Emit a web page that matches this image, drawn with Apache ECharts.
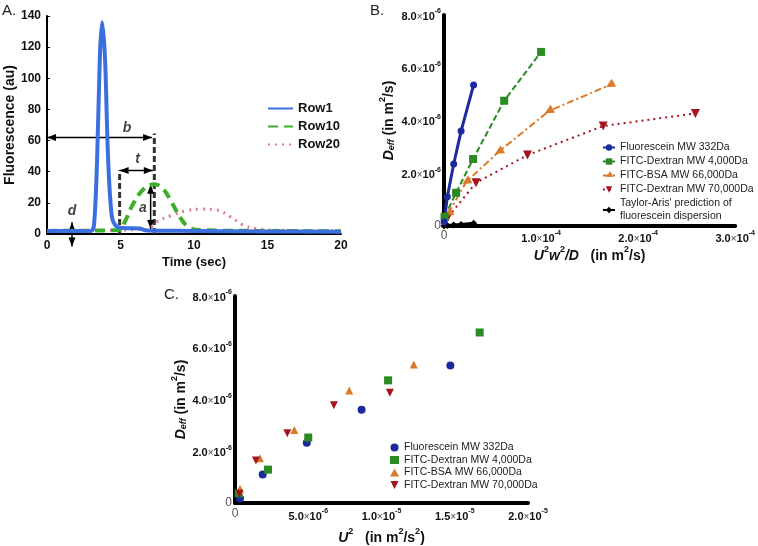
<!DOCTYPE html>
<html><head><meta charset="utf-8">
<script src="https://cdn.jsdelivr.net/npm/echarts@6/dist/echarts.min.js"></script>
<style>html,body{margin:0;padding:0;background:#fff}#c{width:758px;height:546px}</style>
</head><body><div id="c"></div>
<script>
// ---------- Panel A data ----------
const row1 = [[0,2],[3.0,2],[3.2,6],[3.4,45],[3.6,115],[3.75,136],[3.95,112],[4.15,50],[4.4,12],[4.7,5],[5.2,3.8],[6.3,3.5],[6.8,2.2],[10,2],[15,1.6],[20,1.5]];
const row10 = [[0,2],[4.9,2.5],[5.3,8],[5.9,20],[6.6,29],[7.3,32],[7.9,29],[8.5,20],[9.1,10],[9.7,4],[10.5,2.5],[14,2],[20,1.8]];
const row20 = [[0,2],[6.8,3],[7.5,8],[8.5,12],[9.5,15],[10.5,16],[11.5,15.5],[12.5,11],[13.3,6],[14.2,3.5],[15.5,2.5],[20,2]];
const seriesNamesA = ['Row1','Row10','Row20'];
// annotation arrows [x1,y1,x2,y2] (data coords, double-headed) and labels
const annotArrows = [[0,62,7.15,62],[4.94,40.7,7.2,40.7],[7.05,31.6,7.05,3.2],[1.7,7.5,1.7,-8]];
const annotDashed = [[4.94,0,4.94,41],[7.3,0,7.3,64.6]];
const annotLabels = [[5.44,68,'b'],[6.17,48,'t'],[6.53,16.7,'a'],[1.7,15,'d']];

// ---------- Panel B data ----------
const namesB = ['Fluorescein MW 332Da','FITC-Dextran MW 4,000Da','FITC-BSA MW 66,000Da','FITC-Dextran MW 70,000Da',"Taylor-Aris' prediction of\nfluorescein dispersion"];
const bFluor = [[0.2e-6,0.15e-6],[3.4e-6,1.11e-6],[1.0e-5,2.35e-6],[1.76e-5,3.6e-6],[3.05e-5,5.35e-6]];
const bDex4 = [[0.6e-6,0.35e-6],[1.25e-5,1.26e-6],[3.0e-5,2.54e-6],[6.2e-5,4.75e-6],[1.0e-4,6.6e-6]];
const bBSA = [[4.4e-6,0.48e-6],[2.3e-5,1.68e-6],[5.66e-5,2.82e-6],[1.08e-4,4.36e-6],[1.71e-4,5.35e-6]];
const bDex70 = [[4.4e-6,0.35e-6],[3.3e-5,1.64e-6],[8.6e-5,2.69e-6],[1.64e-4,3.79e-6],[2.59e-4,4.27e-6]];
const bTaylor = [[0,0],[3.4e-6,0.02e-6],[1.0e-5,0.04e-6],[1.76e-5,0.06e-6],[3.05e-5,0.1e-6]];

// ---------- Panel C data ----------
const namesC = ['Fluorescein MW 332Da ','FITC-Dextran MW 4,000Da ','FITC-BSA MW 66,000Da ','FITC-Dextran MW 70,000Da '];
const cFluor = [[0.34e-6,0.17e-6],[1.89e-6,1.1e-6],[4.9e-6,2.33e-6],[8.64e-6,3.6e-6],[1.47e-5,5.31e-6]];
const cDex4 = [[0.25e-6,0.38e-6],[2.25e-6,1.29e-6],[5.0e-6,2.53e-6],[1.045e-5,4.74e-6],[1.67e-5,6.59e-6]];
const cBSA = [[0.34e-6,0.55e-6],[1.7e-6,1.73e-6],[4.05e-6,2.82e-6],[7.8e-6,4.35e-6],[1.22e-5,5.35e-6]];
const cDex70 = [[0.3e-6,0.36e-6],[1.43e-6,1.64e-6],[3.57e-6,2.7e-6],[6.75e-6,3.78e-6],[1.057e-5,4.26e-6]];

const FONT = 'Liberation Sans, Arial, sans-serif';
const colors = {fluor:'#1b2a9c', dex4:'#2a8a24', bsa:'#d97a2a', dex70:'#a3141f', taylor:'#000'};

function sciFmt(v){
  if (v === 0) return '0';
  const e = Math.floor(Math.log10(Math.abs(v)) + 1e-9);
  const m = (v / Math.pow(10, e)).toFixed(1);
  return '{m|' + m + '}{x|×}{m|10}{s|' + e + '}';
}
const sciRich = {
  m:{fontFamily:FONT,fontWeight:'bold',fontSize:11,color:'#111',verticalAlign:'bottom',lineHeight:14},
  x:{fontFamily:FONT,fontSize:10,color:'#444',verticalAlign:'bottom',lineHeight:14},
  s:{fontFamily:FONT,fontWeight:'bold',fontSize:7,color:'#111',verticalAlign:'top',lineHeight:14}
};
const deffName = '{i|D}{sub|eff}{n| (in m}{sup|2}{n|/s)}';
const deffRich = {
  i:{fontFamily:FONT,fontWeight:'bold',fontStyle:'italic',fontSize:14,color:'#111',verticalAlign:'bottom',lineHeight:18},
  sub:{fontFamily:FONT,fontWeight:'bold',fontStyle:'italic',fontSize:9,color:'#111',verticalAlign:'bottom',lineHeight:14},
  n:{fontFamily:FONT,fontWeight:'bold',fontSize:14,color:'#111',verticalAlign:'bottom',lineHeight:18},
  sup:{fontFamily:FONT,fontWeight:'bold',fontSize:9,color:'#111',verticalAlign:'top',lineHeight:18}
};
const thickAxis = {lineStyle:{color:'#000',width:4}};
const downTri = 'path://M0,0L10,0L5,10Z';

function arrowItem(params, api){
  const p1 = api.coord([api.value(0), api.value(1)]);
  const p2 = api.coord([api.value(2), api.value(3)]);
  const ang = Math.atan2(p2[1]-p1[1], p2[0]-p1[0]);
  const L = 9, W = 3.5;
  function head(p, a){
    const c = Math.cos(a), s = Math.sin(a);
    return [[p[0],p[1]],[p[0]-L*c+W*s,p[1]-L*s-W*c],[p[0]-L*c-W*s,p[1]-L*s+W*c]];
  }
  return {type:'group',children:[
    {type:'line',shape:{x1:p1[0],y1:p1[1],x2:p2[0],y2:p2[1]},style:{stroke:'#000',lineWidth:1.5}},
    {type:'polygon',shape:{points:head(p2, ang)},style:{fill:'#000'}},
    {type:'polygon',shape:{points:head(p1, ang+Math.PI)},style:{fill:'#000'}}
  ]};
}
function dashedItem(params, api){
  const p1 = api.coord([api.value(0), api.value(1)]);
  const p2 = api.coord([api.value(2), api.value(3)]);
  return {type:'line',shape:{x1:p1[0],y1:p1[1],x2:p2[0],y2:p2[1]},style:{stroke:'#333',lineWidth:3,lineDash:[6,3]}};
}

const chart = echarts.init(document.getElementById('c'), null, {renderer:'canvas'});
const option = {
  animation:false,
  backgroundColor:'#fff',
  textStyle:{fontFamily:FONT},
  graphic:[
    {type:'text',left:2,top:3,style:{text:'A.',font:'15px '+FONT,fill:'#222'}},
    {type:'text',left:370,top:3,style:{text:'B.',font:'15px '+FONT,fill:'#222'}},
    {type:'text',left:164,top:287,style:{text:'C.',font:'15px '+FONT,fill:'#222'}}
  ],
  grid:[
    {left:47,right:417,top:16,bottom:312},
    {left:444,right:20,top:15,bottom:320},
    {left:235,right:230,top:296,bottom:42}
  ],
  xAxis:[
    {gridIndex:0,type:'value',min:0,max:20,interval:5,splitLine:{show:false},
     axisLine:{lineStyle:{color:'#000',width:2}},axisTick:{show:false},
     axisLabel:{fontFamily:FONT,fontWeight:'bold',fontSize:12,color:'#111',margin:6},
     name:'Time (sec)',nameLocation:'middle',nameGap:22,
     nameTextStyle:{fontFamily:FONT,fontWeight:'bold',fontSize:13,color:'#111'}},
    {gridIndex:1,type:'value',min:0,max:3e-4,interval:1e-4,splitLine:{show:false},
     axisLine:thickAxis,axisTick:{show:false},
     axisLabel:{formatter:sciFmt,rich:sciRich,margin:4},
     name:'{i|U}{sup|2}{i|w}{sup|2}{i|/D}{n|   (in m}{sup|2}{n|/s)}',nameLocation:'middle',nameGap:17,
     nameTextStyle:{rich:deffRich}},
    {gridIndex:2,type:'value',min:0,max:2e-5,interval:5e-6,splitLine:{show:false},
     axisLine:thickAxis,axisTick:{show:false},
     axisLabel:{formatter:sciFmt,rich:sciRich,margin:5},
     name:'{i|U}{sup|2}{n|   (in m}{sup|2}{n|/s}{sup|2}{n|)}',nameLocation:'middle',nameGap:24,
     nameTextStyle:{rich:deffRich}}
  ],
  yAxis:[
    {gridIndex:0,type:'value',min:0,max:140,interval:20,splitLine:{show:false},
     axisLine:{show:true,lineStyle:{color:'#000',width:2}},axisTick:{show:true,inside:true,length:3,lineStyle:{color:'#000'}},
     axisLabel:{fontFamily:FONT,fontWeight:'bold',fontSize:12,color:'#111',margin:6},
     name:'Fluorescence (au)',nameLocation:'middle',nameRotate:90,nameGap:30,
     nameTextStyle:{fontFamily:FONT,fontWeight:'bold',fontSize:14,color:'#111'}},
    {gridIndex:1,type:'value',min:0,max:8e-6,interval:2e-6,splitLine:{show:false},
     axisLine:{show:true,lineStyle:{color:'#000',width:4}},axisTick:{show:false},
     axisLabel:{formatter:sciFmt,rich:sciRich,margin:3},
     name:deffName,nameLocation:'middle',nameRotate:90,nameGap:48,
     nameTextStyle:{rich:deffRich}},
    {gridIndex:2,type:'value',min:0,max:8e-6,interval:2e-6,splitLine:{show:false},
     axisLine:{show:true,lineStyle:{color:'#000',width:4}},axisTick:{show:false},
     axisLabel:{formatter:sciFmt,rich:sciRich,margin:3},
     name:deffName,nameLocation:'middle',nameRotate:90,nameGap:44,
     nameTextStyle:{rich:deffRich}}
  ],
  legend:[
    {data:seriesNamesA,left:262,top:97,orient:'vertical',itemWidth:25,itemHeight:10,itemGap:5,
     itemStyle:{opacity:0},
     textStyle:{fontFamily:FONT,fontWeight:'bold',fontSize:13,color:'#111'}},
    {data:namesB,left:597,top:136,orient:'vertical',itemWidth:12,itemHeight:8,itemGap:1,
     textStyle:{fontFamily:FONT,fontSize:10.5,color:'#222',lineHeight:13}},
    {data:[namesC[0],namesC[1],namesC[2],{name:namesC[3],icon:downTri}],left:385,top:437,orient:'vertical',itemWidth:9,itemHeight:8,itemGap:1.5,
     textStyle:{fontFamily:FONT,fontSize:10.5,color:'#222'}}
  ],
  series:[
    // Panel A
    {name:'Row20',type:'line',xAxisIndex:0,yAxisIndex:0,data:row20,symbol:'none',smooth:0.4,
     lineStyle:{color:'#e27c88',width:3,type:[2,5]},itemStyle:{color:'#e27c88'}},
    {name:'Row10',type:'line',xAxisIndex:0,yAxisIndex:0,data:row10,symbol:'none',smooth:0.4,
     lineStyle:{color:'#3cae2a',width:4,type:[10,6]},itemStyle:{color:'#3cae2a'}},
    {name:'Row1',type:'line',xAxisIndex:0,yAxisIndex:0,data:row1,symbol:'none',smooth:0.3,
     lineStyle:{color:'#3b6fe0',width:4},itemStyle:{color:'#3b6fe0'}},
    {name:'dashed',type:'custom',xAxisIndex:0,yAxisIndex:0,silent:true,clip:false,
     renderItem:dashedItem,data:annotDashed,encode:{x:[0,2],y:[1,3]}},
    {name:'arrows',type:'custom',xAxisIndex:0,yAxisIndex:0,silent:true,clip:false,
     renderItem:arrowItem,data:annotArrows,encode:{x:[0,2],y:[1,3]}},
    {name:'annot',type:'scatter',xAxisIndex:0,yAxisIndex:0,symbolSize:0,silent:true,clip:false,
     data:annotLabels.map(a=>({value:[a[0],a[1]],name:a[2]})),
     label:{show:true,position:'inside',formatter:'{b}',fontFamily:FONT,fontStyle:'italic',fontWeight:'bold',fontSize:14,color:'#111'}},
    // Panel B
    {name:namesB[4],type:'line',xAxisIndex:1,yAxisIndex:1,data:bTaylor,symbol:'diamond',symbolSize:7,
     lineStyle:{color:colors.taylor,width:3},itemStyle:{color:colors.taylor}},
    {name:namesB[3],type:'line',xAxisIndex:1,yAxisIndex:1,data:bDex70,symbol:'triangle',symbolRotate:180,symbolSize:9,
     lineStyle:{color:colors.dex70,width:2,type:[2,4]},itemStyle:{color:colors.dex70}},
    {name:namesB[2],type:'line',xAxisIndex:1,yAxisIndex:1,data:bBSA,symbol:'triangle',symbolRotate:120,symbolSize:9,
     lineStyle:{color:colors.bsa,width:2,type:[7,3,2,3]},itemStyle:{color:colors.bsa}},
    {name:namesB[1],type:'line',xAxisIndex:1,yAxisIndex:1,data:bDex4,symbol:'rect',symbolSize:8,
     lineStyle:{color:colors.dex4,width:2,type:[6,3]},itemStyle:{color:colors.dex4}},
    {name:namesB[0],type:'line',xAxisIndex:1,yAxisIndex:1,data:bFluor,symbol:'circle',symbolSize:7,
     lineStyle:{color:colors.fluor,width:3},itemStyle:{color:colors.fluor}},
    // Panel C
    {name:namesC[0],type:'scatter',xAxisIndex:2,yAxisIndex:2,data:cFluor,symbol:'circle',symbolSize:8,itemStyle:{color:colors.fluor,opacity:1}},
    {name:namesC[1],type:'scatter',xAxisIndex:2,yAxisIndex:2,data:cDex4,symbol:'rect',symbolSize:8,itemStyle:{color:colors.dex4,opacity:1}},
    {name:namesC[2],type:'scatter',xAxisIndex:2,yAxisIndex:2,data:cBSA,symbol:'triangle',symbolSize:8,itemStyle:{color:colors.bsa,opacity:1}},
    {name:namesC[3],type:'scatter',xAxisIndex:2,yAxisIndex:2,data:cDex70,symbol:'triangle',symbolRotate:180,symbolSize:8,itemStyle:{color:colors.dex70,opacity:1}}
  ]
};
chart.setOption(option);
</script>
</body></html>
